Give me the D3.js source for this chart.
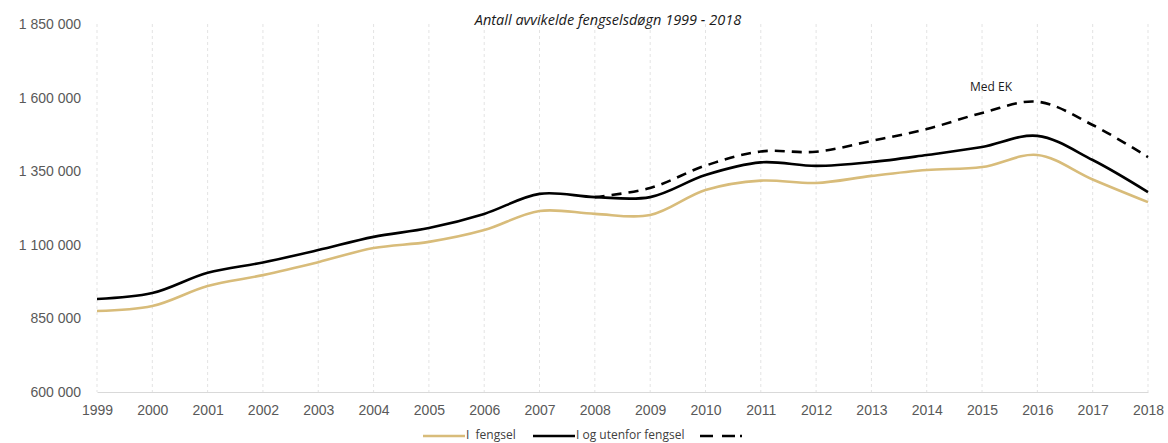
<!DOCTYPE html>
<html lang="no">
<head>
<meta charset="utf-8">
<title>Antall avvikelde fengselsdøgn</title>
<script src="https://cdn.jsdelivr.net/npm/d3@7"></script>
<style>
    body { margin: 0; background: #fff; }
    svg { display: block; font-family: "Open Sans", sans-serif; }
    .tick text { fill: #595959; font-size: 14px; }
    .legend text { fill: #404040; font-size: 12px; white-space: pre; }
</style>
</head>
<body>
<div id="chart"></div>
<script>
"use strict";
var years = d3.range(1999, 2019);
var iFengsel = [875000, 892000, 960000, 997000, 1041000, 1089000, 1110000, 1150000, 1215000, 1205000,
                1201000, 1286000, 1318000, 1310000, 1334000, 1354000, 1364000, 1405000, 1322000, 1245000];
var ogUtenfor = [916000, 936000, 1005000, 1040000, 1082000, 1127000, 1157000, 1205000, 1273000, 1262000,
                 1262000, 1337000, 1380000, 1368000, 1381000, 1405000, 1432000, 1470000, 1388000, 1279000];
var medEKYears = d3.range(2008, 2019);
var medEK = [1262000, 1293000, 1369000, 1417000, 1416000, 1453000, 1493000, 1548000, 1586000, 1507000, 1398000];
var yTicks = [600000, 850000, 1100000, 1350000, 1600000, 1850000];
var legendLabels = ["I  fengsel", "I og utenfor fengsel", ""];

var svg_width = 1168, svg_height = 443;
var svg = d3.select("#chart").append("svg")
    .attr("width", svg_width)
    .attr("height", svg_height);

var xscale = d3.scaleLinear().domain([1999, 2018]).range([97, 1148]);
var yscale = d3.scaleLinear().domain([600000, 1850000]).range([392, 24]);

// vertical dashed gridlines
svg.append("g")
    .selectAll("line")
    .data(years)
    .enter()
    .append("line")
    .attr("x1", function(d) { return xscale(d); })
    .attr("x2", function(d) { return xscale(d); })
    .attr("y1", yscale(1850000))
    .attr("y2", yscale(600000))
    .attr("stroke", "#e3e3e3")
    .attr("stroke-dasharray", "3,3");

var fmt = function(d) { return d3.format(",")(d).replace(/,/g, " "); };

var yaxis = d3.axisLeft(yscale).tickValues(yTicks).tickFormat(fmt).tickSize(0).tickPadding(0);
svg.append("g")
    .attr("transform", "translate(81,0)")
    .call(yaxis)
    .call(function(g) { g.select(".domain").remove(); });

var xaxis = d3.axisBottom(xscale).tickValues(years).tickFormat(d3.format("d")).tickSize(0).tickPadding(13);
svg.append("g")
    .attr("transform", "translate(0," + yscale(600000) + ")")
    .call(xaxis)
    .call(function(g) {
        g.select(".domain").attr("stroke", "#d9d9d9").attr("stroke-width", 1.2);
    });

var line = d3.line()
    .x(function(d) { return xscale(d[0]); })
    .y(function(d) { return yscale(d[1]); })
    .curve(d3.curveCatmullRom.alpha(0.5));

svg.append("path")
    .datum(d3.zip(medEKYears, medEK))
    .attr("d", line)
    .attr("fill", "none")
    .attr("stroke", "#000")
    .attr("stroke-width", 2.6)
    .attr("stroke-dasharray", "10,7");

svg.append("path")
    .datum(d3.zip(years, iFengsel))
    .attr("d", line)
    .attr("fill", "none")
    .attr("stroke", "#d8bc7a")
    .attr("stroke-width", 2.6);

svg.append("path")
    .datum(d3.zip(years, ogUtenfor))
    .attr("d", line)
    .attr("fill", "none")
    .attr("stroke", "#000")
    .attr("stroke-width", 2.6);

svg.append("text")
    .attr("x", 991)
    .attr("y", 91)
    .attr("text-anchor", "middle")
    .attr("fill", "#1a1a1a")
    .style("font-size", "12px")
    .text("Med EK");

svg.append("text")
    .attr("x", 608)
    .attr("y", 25)
    .attr("text-anchor", "middle")
    .attr("fill", "#1a1a1a")
    .style("font-size", "14.5px")
    .style("font-style", "italic")
    .text("Antall avvikelde fengselsdøgn 1999 - 2018");

// legend
var legendItems = [
    { x: 423, color: "#d8bc7a", dash: null },
    { x: 533, color: "#000", dash: null },
    { x: 700, color: "#000", dash: "13,9,13,5,2,50" }
];
var legend = svg.append("g").attr("class", "legend");
legendItems.forEach(function(item, i) {
    legend.append("line")
        .attr("x1", item.x).attr("x2", item.x + 42)
        .attr("y1", 436).attr("y2", 436)
        .attr("stroke", item.color)
        .attr("stroke-width", 2.6)
        .attr("stroke-dasharray", item.dash);
    legend.append("text")
        .attr("x", item.x + 43)
        .attr("y", 439)
        .text(legendLabels[i]);
});
</script>
</body>
</html>
